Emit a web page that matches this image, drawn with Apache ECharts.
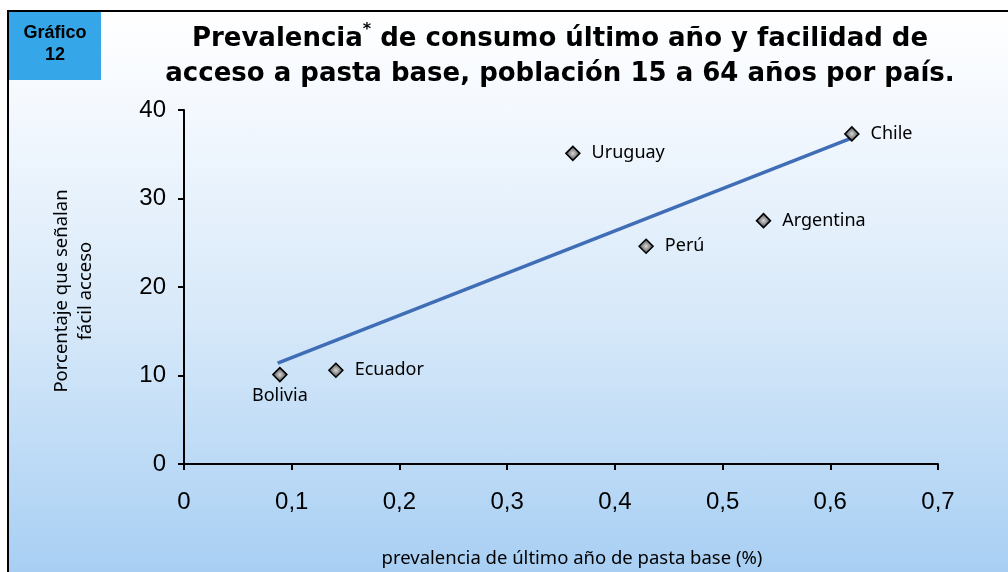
<!DOCTYPE html>
<html>
<head>
<meta charset="utf-8">
<script src="https://cdn.jsdelivr.net/npm/echarts@6/dist/echarts.min.js"></script>
<style>
	body{margin:0;overflow:hidden;}
	#frame{
		position:absolute;left:7px;top:10px;width:1010px;height:570px;
		border-top:2.5px solid #000;border-left:2.5px solid #000;
		background:linear-gradient(to bottom,#ffffff 0%,#f3f8fe 18%,#d6e8f9 55%,#a6cef3 100%);
	}
	#myChart{position:absolute;left:0;top:0;width:1008px;height:572px;}
</style>
</head>
<body>
<div id="frame"></div>
<div id="myChart"></div>
<script>
// datos
var countries = ['Bolivia', 'Ecuador', 'Uruguay', 'Perú', 'Argentina', 'Chile'];
var prevalence = [0.089, 0.141, 0.361, 0.429, 0.538, 0.620];
var easyAccess = [10.1, 10.6, 35.1, 24.6, 27.5, 37.3];
// línea de tendencia (extremos)
var trendX = [0.087, 0.619];
var trendY = [11.4, 36.8];

var points = countries.map(function(c, i){
	return {
		name: c,
		value: [prevalence[i], easyAccess[i]],
		label: c === 'Bolivia' ? {position: 'bottom', distance: 5} : {position: 'right', distance: 11}
	};
});

var myChart = echarts.init(document.getElementById('myChart'));
var option = {
	backgroundColor: 'transparent',
	animation: false,
	grid: {left: 184, right: 70, top: 110, bottom: 108},
	graphic: [
		{
			type: 'rect',
			shape: {x: 9, y: 12, width: 92, height: 68},
			style: {fill: '#35a7e8'}
		},
		{
			type: 'text',
			x: 55, y: 44,
			style: {
				text: 'Gráfico\n12',
				align: 'center', verticalAlign: 'middle',
				font: 'bold 18px "Liberation Sans", Arial, sans-serif',
				lineHeight: 22, fill: '#000'
			}
		},
		{
			type: 'text',
			x: 560, y: 57,
			style: {
				text: 'Prevalencia{sup|*} de consumo último año y facilidad de\nacceso a pasta base, población 15 a 64 años por país.',
				align: 'center', verticalAlign: 'middle',
				fontFamily: 'DejaVu Sans', fontWeight: 'bold', fontSize: 26,
				lineHeight: 35, fill: '#000',
				rich: {
					sup: {fontFamily: 'DejaVu Sans', fontWeight: 'bold', fontSize: 16, verticalAlign: 'top', fill: '#000'}
				}
			}
		},
		{
			type: 'text',
			x: 74, y: 291,
			rotation: Math.PI / 2,
			style: {
				text: 'Porcentaje que señalan\nfácil acceso',
				align: 'center', verticalAlign: 'middle',
				font: '18.5px "Noto Sans", sans-serif',
				lineHeight: 24, fill: '#000'
			}
		},
		{
			type: 'text',
			x: 572, y: 559,
			style: {
				text: 'prevalencia de último año de pasta base (%)',
				align: 'center', verticalAlign: 'middle',
				font: '18.5px "Noto Sans", sans-serif',
				fill: '#000'
			}
		}
	],
	xAxis: {
		type: 'value',
		min: 0, max: 0.7, interval: 0.1,
		axisLine: {show: true, onZero: false, lineStyle: {color: '#000', width: 2}},
		axisTick: {show: true, length: 6, lineStyle: {color: '#000', width: 2}},
		splitLine: {show: false},
		axisLabel: {
			margin: 26, color: '#000', fontSize: 24, fontFamily: 'Liberation Sans',
			formatter: function(v){ return v === 0 ? '0' : v.toFixed(1).replace('.', ','); }
		}
	},
	yAxis: {
		type: 'value',
		min: 0, max: 40, interval: 10,
		axisLine: {show: true, onZero: false, lineStyle: {color: '#000', width: 2}},
		axisTick: {show: true, length: 6, lineStyle: {color: '#000', width: 2}},
		splitLine: {show: false},
		axisLabel: {margin: 18, color: '#000', fontSize: 24, fontFamily: 'Liberation Sans'}
	},
	series: [
		{
			name: 'tendencia',
			type: 'line',
			data: trendX.map(function(x, i){ return [x, trendY[i]]; }),
			symbol: 'none',
			lineStyle: {color: '#3f6db6', width: 3.5},
			z: 2
		},
		{
			name: 'países',
			type: 'scatter',
			data: points,
			symbol: 'diamond',
			symbolSize: 14,
			itemStyle: {
				color: new echarts.graphic.RadialGradient(0.5, 0.5, 0.5, [
					{offset: 0, color: '#d8d8d8'},
					{offset: 1, color: '#3a3a3a'}
				]),
				borderColor: '#000',
				borderWidth: 1.5,
				opacity: 1
			},
			label: {
				show: true,
				formatter: '{b}',
				color: '#000',
				fontSize: 18,
				fontFamily: 'Noto Sans'
			},
			z: 3
		}
	]
};
myChart.setOption(option);
</script>
</body>
</html>
